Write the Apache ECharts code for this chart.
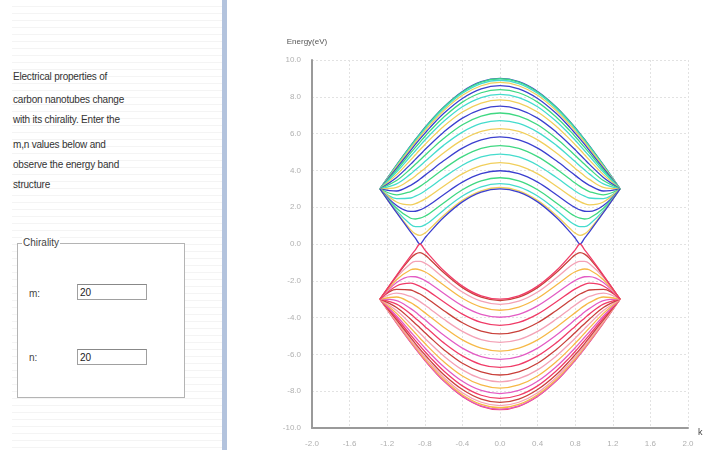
<!DOCTYPE html>
<html>
<head>
<meta charset="utf-8">
<script src="https://cdn.jsdelivr.net/npm/echarts@6/dist/echarts.min.js"></script>
<style>
  html, body { margin: 0; padding: 0; background: #fff; }
  body { width: 709px; height: 450px; position: relative; overflow: hidden; font-family: "Liberation Sans", Arial, sans-serif; }
  #chart { position: absolute; left: 0; top: 0; width: 709px; height: 450px; }
  #side {
    position: absolute; left: 12px; top: 0; width: 210px; height: 450px;
    background: repeating-linear-gradient(#fff 0 6px, #f4f4f4 6px 7px);
  }
  #bar { position: absolute; left: 222px; top: 0; width: 5px; height: 450px; background: #b3c3dd; }
  .txt { position: absolute; left: 1px; font-size: 10px; color: #333; white-space: nowrap; letter-spacing: -0.2px; }
  #chirality {
    position: absolute; left: 5px; top: 243px; width: 166px; height: 153px;
    border: 1px solid #b4b4b4; background: #fff;
  }
  #legend { position: absolute; left: 4px; top: -7px; font-size: 10px; color: #444; background: #fff; padding: 0 1px; }
  .lab { position: absolute; left: 11px; font-size: 10px; color: #444; }
  .inp {
    position: absolute; left: 59px; width: 70px; height: 16px; border: 1px solid #a0a0a0;
    border-top-color: #888; font-size: 10px; line-height: 16px; padding-left: 2px; box-sizing: border-box; color: #222;
  }
</style>
</head>
<body>
<div id="chart"></div>
<div id="side">
  <div class="txt" style="top:71px">Electrical properties of</div>
  <div class="txt" style="top:94px">carbon nanotubes change</div>
  <div class="txt" style="top:114px">with its chirality. Enter the</div>
  <div class="txt" style="top:139px">m,n values below and</div>
  <div class="txt" style="top:159px">observe the energy band</div>
  <div class="txt" style="top:179px">structure</div>
  <div id="chirality">
    <div id="legend">Chirality</div>
    <div class="lab" style="top:44px">m:</div>
    <div class="inp" style="top:40px">20</div>
    <div class="lab" style="top:108px">n:</div>
    <div class="inp" style="top:105px">20</div>
  </div>
</div>
<div id="bar"></div>
<script>
// wave vector k (1/Angstrom)
const kPoints = [-1.277, -1.1, -0.95, -0.9, -0.851, -0.8, -0.75, -0.6, -0.4, -0.2, 0, 0.2, 0.4, 0.6, 0.75, 0.8, 0.851, 0.9, 0.95, 1.1, 1.277];

// conduction subbands (eV)
const conductionBands = [
  [3, 4.30, 5.35, 5.68, 6, 6.32, 6.62, 7.44, 8.29, 8.82, 9, 8.82, 8.29, 7.44, 6.62, 6.32, 6, 5.68, 5.35, 4.30, 3],
  [3, 4.29, 5.33, 5.67, 5.98, 6.30, 6.60, 7.42, 8.26, 8.80, 8.98, 8.80, 8.26, 7.42, 6.60, 6.30, 5.98, 5.67, 5.33, 4.29, 3],
  [3, 4.25, 5.28, 5.61, 5.93, 6.24, 6.54, 7.35, 8.19, 8.72, 8.90, 8.72, 8.19, 7.35, 6.54, 6.24, 5.93, 5.61, 5.28, 4.25, 3],
  [3, 4.20, 5.20, 5.53, 5.83, 6.15, 6.44, 7.24, 8.08, 8.60, 8.78, 8.60, 8.08, 7.24, 6.44, 6.15, 5.83, 5.53, 5.20, 4.20, 3],
  [3, 4.12, 5.09, 5.41, 5.71, 6.01, 6.30, 7.09, 7.91, 8.43, 8.61, 8.43, 7.91, 7.09, 6.30, 6.01, 5.71, 5.41, 5.09, 4.12, 3],
  [3, 4.02, 4.95, 5.25, 5.54, 5.84, 6.12, 6.89, 7.71, 8.22, 8.39, 8.22, 7.71, 6.89, 6.12, 5.84, 5.54, 5.25, 4.95, 4.02, 3],
  [3, 3.91, 4.78, 5.07, 5.35, 5.64, 5.91, 6.66, 7.46, 7.96, 8.13, 7.96, 7.46, 6.66, 5.91, 5.64, 5.35, 5.07, 4.78, 3.91, 3],
  [3, 3.77, 4.57, 4.85, 5.12, 5.39, 5.66, 6.39, 7.17, 7.66, 7.83, 7.66, 7.17, 6.39, 5.66, 5.39, 5.12, 4.85, 4.57, 3.77, 3],
  [3, 3.62, 4.34, 4.60, 4.85, 5.12, 5.37, 6.08, 6.84, 7.32, 7.49, 7.32, 6.84, 6.08, 5.37, 5.12, 4.85, 4.60, 4.34, 3.62, 3],
  [3, 3.45, 4.09, 4.33, 4.56, 4.81, 5.05, 5.73, 6.48, 6.95, 7.12, 6.95, 6.48, 5.73, 5.05, 4.81, 4.56, 4.33, 4.09, 3.45, 3],
  [3, 3.27, 3.81, 4.03, 4.24, 4.48, 4.70, 5.36, 6.08, 6.55, 6.71, 6.55, 6.08, 5.36, 4.70, 4.48, 4.24, 4.03, 3.81, 3.27, 3],
  [3, 3.08, 3.51, 3.70, 3.90, 4.11, 4.33, 4.95, 5.66, 6.12, 6.27, 6.12, 5.66, 4.95, 4.33, 4.11, 3.90, 3.70, 3.51, 3.08, 3],
  [3, 2.88, 3.19, 3.35, 3.53, 3.73, 3.93, 4.52, 5.21, 5.66, 5.82, 5.66, 5.21, 4.52, 3.93, 3.73, 3.53, 3.35, 3.19, 2.88, 3],
  [3, 2.67, 2.85, 2.98, 3.13, 3.31, 3.50, 4.08, 4.75, 5.20, 5.35, 5.20, 4.75, 4.08, 3.50, 3.31, 3.13, 2.98, 2.85, 2.67, 3],
  [3, 2.47, 2.50, 2.60, 2.72, 2.88, 3.06, 3.61, 4.28, 4.73, 4.88, 4.73, 4.28, 3.61, 3.06, 2.88, 2.72, 2.60, 2.50, 2.47, 3],
  [3, 2.28, 2.13, 2.19, 2.30, 2.44, 2.60, 3.14, 3.81, 4.26, 4.42, 4.26, 3.81, 3.14, 2.60, 2.44, 2.30, 2.19, 2.13, 2.28, 3],
  [3, 2.09, 1.77, 1.78, 1.85, 1.98, 2.13, 2.68, 3.36, 3.82, 3.98, 3.82, 3.36, 2.68, 2.13, 1.98, 1.85, 1.78, 1.77, 2.09, 3],
  [3, 1.94, 1.40, 1.36, 1.40, 1.51, 1.66, 2.23, 2.95, 3.43, 3.60, 3.43, 2.95, 2.23, 1.66, 1.51, 1.40, 1.36, 1.40, 1.94, 3],
  [3, 1.81, 1.06, 0.94, 0.94, 1.04, 1.20, 1.84, 2.61, 3.11, 3.28, 3.11, 2.61, 1.84, 1.20, 1.04, 0.94, 0.94, 1.06, 1.81, 3],
  [3, 1.73, 0.77, 0.55, 0.47, 0.59, 0.81, 1.55, 2.37, 2.89, 3.07, 2.89, 2.37, 1.55, 0.81, 0.59, 0.47, 0.55, 0.77, 1.73, 3],
  [3, 1.70, 0.65, 0.32, 0, 0.32, 0.62, 1.44, 2.29, 2.82, 3, 2.82, 2.29, 1.44, 0.62, 0.32, 0, 0.32, 0.65, 1.70, 3]
];

// valence subbands (eV)
const valenceBands = [
  [-3, -4.30, -5.35, -5.68, -6, -6.32, -6.62, -7.44, -8.29, -8.82, -9, -8.82, -8.29, -7.44, -6.62, -6.32, -6, -5.68, -5.35, -4.30, -3],
  [-3, -4.29, -5.33, -5.67, -5.98, -6.30, -6.60, -7.42, -8.26, -8.80, -8.98, -8.80, -8.26, -7.42, -6.60, -6.30, -5.98, -5.67, -5.33, -4.29, -3],
  [-3, -4.25, -5.28, -5.61, -5.93, -6.24, -6.54, -7.35, -8.19, -8.72, -8.90, -8.72, -8.19, -7.35, -6.54, -6.24, -5.93, -5.61, -5.28, -4.25, -3],
  [-3, -4.20, -5.20, -5.53, -5.83, -6.15, -6.44, -7.24, -8.08, -8.60, -8.78, -8.60, -8.08, -7.24, -6.44, -6.15, -5.83, -5.53, -5.20, -4.20, -3],
  [-3, -4.12, -5.09, -5.41, -5.71, -6.01, -6.30, -7.09, -7.91, -8.43, -8.61, -8.43, -7.91, -7.09, -6.30, -6.01, -5.71, -5.41, -5.09, -4.12, -3],
  [-3, -4.02, -4.95, -5.25, -5.54, -5.84, -6.12, -6.89, -7.71, -8.22, -8.39, -8.22, -7.71, -6.89, -6.12, -5.84, -5.54, -5.25, -4.95, -4.02, -3],
  [-3, -3.91, -4.78, -5.07, -5.35, -5.64, -5.91, -6.66, -7.46, -7.96, -8.13, -7.96, -7.46, -6.66, -5.91, -5.64, -5.35, -5.07, -4.78, -3.91, -3],
  [-3, -3.77, -4.57, -4.85, -5.12, -5.39, -5.66, -6.39, -7.17, -7.66, -7.83, -7.66, -7.17, -6.39, -5.66, -5.39, -5.12, -4.85, -4.57, -3.77, -3],
  [-3, -3.62, -4.34, -4.60, -4.85, -5.12, -5.37, -6.08, -6.84, -7.32, -7.49, -7.32, -6.84, -6.08, -5.37, -5.12, -4.85, -4.60, -4.34, -3.62, -3],
  [-3, -3.45, -4.09, -4.33, -4.56, -4.81, -5.05, -5.73, -6.48, -6.95, -7.12, -6.95, -6.48, -5.73, -5.05, -4.81, -4.56, -4.33, -4.09, -3.45, -3],
  [-3, -3.27, -3.81, -4.03, -4.24, -4.48, -4.70, -5.36, -6.08, -6.55, -6.71, -6.55, -6.08, -5.36, -4.70, -4.48, -4.24, -4.03, -3.81, -3.27, -3],
  [-3, -3.08, -3.51, -3.70, -3.90, -4.11, -4.33, -4.95, -5.66, -6.12, -6.27, -6.12, -5.66, -4.95, -4.33, -4.11, -3.90, -3.70, -3.51, -3.08, -3],
  [-3, -2.88, -3.19, -3.35, -3.53, -3.73, -3.93, -4.52, -5.21, -5.66, -5.82, -5.66, -5.21, -4.52, -3.93, -3.73, -3.53, -3.35, -3.19, -2.88, -3],
  [-3, -2.67, -2.85, -2.98, -3.13, -3.31, -3.50, -4.08, -4.75, -5.20, -5.35, -5.20, -4.75, -4.08, -3.50, -3.31, -3.13, -2.98, -2.85, -2.67, -3],
  [-3, -2.47, -2.50, -2.60, -2.72, -2.88, -3.06, -3.61, -4.28, -4.73, -4.88, -4.73, -4.28, -3.61, -3.06, -2.88, -2.72, -2.60, -2.50, -2.47, -3],
  [-3, -2.28, -2.13, -2.19, -2.30, -2.44, -2.60, -3.14, -3.81, -4.26, -4.42, -4.26, -3.81, -3.14, -2.60, -2.44, -2.30, -2.19, -2.13, -2.28, -3],
  [-3, -2.09, -1.77, -1.78, -1.85, -1.98, -2.13, -2.68, -3.36, -3.82, -3.98, -3.82, -3.36, -2.68, -2.13, -1.98, -1.85, -1.78, -1.77, -2.09, -3],
  [-3, -1.94, -1.40, -1.36, -1.40, -1.51, -1.66, -2.23, -2.95, -3.43, -3.60, -3.43, -2.95, -2.23, -1.66, -1.51, -1.40, -1.36, -1.40, -1.94, -3],
  [-3, -1.81, -1.06, -0.94, -0.94, -1.04, -1.20, -1.84, -2.61, -3.11, -3.28, -3.11, -2.61, -1.84, -1.20, -1.04, -0.94, -0.94, -1.06, -1.81, -3],
  [-3, -1.73, -0.77, -0.55, -0.47, -0.59, -0.81, -1.55, -2.37, -2.89, -3.07, -2.89, -2.37, -1.55, -0.81, -0.59, -0.47, -0.55, -0.77, -1.73, -3],
  [-3, -1.70, -0.65, -0.32, 0, -0.32, -0.62, -1.44, -2.29, -2.82, -3, -2.82, -2.29, -1.44, -0.62, -0.32, 0, -0.32, -0.65, -1.70, -3]
];

const upperColors = ['#3b3fcf', '#3fd882', '#45dccd', '#f1cf5c'];
const lowerColors = ['#f03c68', '#e35cc4', '#f6b947', '#f4a2b6', '#c9403a'];

const chart = echarts.init(document.getElementById('chart'), null, { renderer: 'canvas' });

function bandSeries(bands, colors) {
  return bands.map((band, j) => ({
    type: 'line',
    data: kPoints.map((k, i) => [k, band[i]]),
    showSymbol: false,
    smooth: 0.35,
    lineStyle: { width: 1.3, color: colors[j % colors.length] },
    z: 3
  }));
}

chart.setOption({
  animation: false,
  grid: { left: 312, right: 21, top: 60, bottom: 22 },
  xAxis: {
    type: 'value', min: -2, max: 2, interval: 0.4,
    name: 'k', nameGap: 10,
    nameTextStyle: { color: '#444', fontSize: 9, verticalAlign: 'top', padding: [0, 0, 0, 0] },
    axisLine: { onZero: false, lineStyle: { color: '#9a9a9a', width: 2 } },
    axisTick: { show: false },
    axisLabel: { color: '#b0b0b0', fontSize: 8, margin: 12, formatter: v => v.toFixed(1) },
    splitLine: { lineStyle: { color: '#e2e2e2', type: [2, 2] } }
  },
  yAxis: {
    type: 'value', min: -10, max: 10, interval: 2,
    name: 'Energy(eV)', nameGap: 14,
    nameTextStyle: { color: '#555', fontSize: 8, align: 'center', padding: [0, 10, 0, 0] },
    axisLine: { show: true, onZero: false, lineStyle: { color: '#9a9a9a', width: 2 } },
    axisTick: { show: false },
    axisLabel: { color: '#b0b0b0', fontSize: 8, margin: 11, formatter: v => v.toFixed(1) },
    splitLine: { lineStyle: { color: '#e2e2e2', type: [2, 2] } }
  },
  series: bandSeries(conductionBands, upperColors).concat(bandSeries(valenceBands, lowerColors))
});
</script>
</body>
</html>
